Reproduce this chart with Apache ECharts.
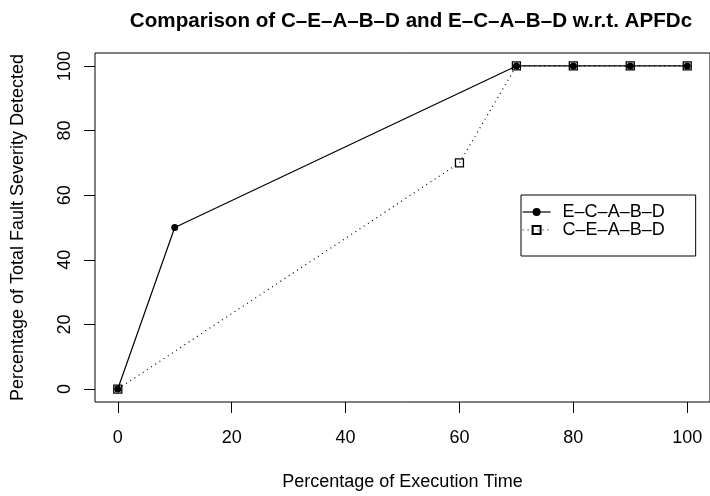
<!DOCTYPE html>
<html>
<head>
<meta charset="utf-8">
<script src="https://cdn.jsdelivr.net/npm/echarts@6/dist/echarts.min.js"></script>
<style>html,body{margin:0;padding:0;background:#fff}#chart{width:710px;height:496px}</style>
</head>
<body>
<div id="chart"></div>
<script>
var execTime1 = [0, 10, 70, 80, 90, 100];
var severity1 = [0, 50, 100, 100, 100, 100];
var execTime2 = [0, 60, 70, 80, 90, 100];
var severity2 = [0, 70, 100, 100, 100, 100];
var xTicks = [0, 20, 40, 60, 80, 100];
var yTicks = [0, 20, 40, 60, 80, 100];

function pairs(xs, ys) {
	return xs.map(function (x, i) { return [x, ys[i]]; });
}

var font = 'Liberation Sans, Arial, sans-serif';

echarts.init(document.getElementById('chart')).setOption({
	animation: false,
	backgroundColor: '#fff',
	title: {
		text: 'Comparison of C\u2013E\u2013A\u2013B\u2013D and E\u2013C\u2013A\u2013B\u2013D w.r.t. APFDc',
		left: 406,
		textAlign: 'center',
		top: 6,
		textStyle: { fontFamily: font, fontSize: 20.6, fontWeight: 'bold', color: '#000' }
	},
	grid: {
		left: 95, top: 53, right: -6, bottom: 94,
		show: true, borderColor: '#000', borderWidth: 1
	},
	legend: {
		orient: 'vertical',
		left: 521, top: 195,
		padding: [8, 31, 17, 1],
		itemGap: 0,
		itemWidth: 28,
		itemHeight: 10,
		borderColor: '#000', borderWidth: 1,
		lineStyle: { width: 1.2, color: '#000' },
		textStyle: { fontFamily: font, fontSize: 18, lineHeight: 18, color: '#000', padding: [0, 0, 0, 7] },
		data: ['E\u2013C\u2013A\u2013B\u2013D', 'C\u2013E\u2013A\u2013B\u2013D']
	},
	xAxis: {
		type: 'value', min: -4, max: 104,
		name: 'Percentage of Execution Time',
		nameLocation: 'middle', nameGap: 71,
		nameTextStyle: { fontFamily: font, fontSize: 18, color: '#000' },
		axisLine: { show: false, onZero: false },
		splitLine: { show: false },
		axisTick: { show: true, length: 11, customValues: xTicks, lineStyle: { color: '#000' } },
		axisLabel: { customValues: xTicks, margin: 27, fontFamily: font, fontSize: 18, color: '#000' }
	},
	yAxis: {
		type: 'value', min: -4, max: 104,
		name: 'Percentage of Total Fault Severity Detected',
		nameLocation: 'middle', nameGap: 68,
		nameTextStyle: { fontFamily: font, fontSize: 18, color: '#000' },
		axisLine: { show: false, onZero: false },
		splitLine: { show: false },
		axisTick: { show: true, length: 11, customValues: yTicks, lineStyle: { color: '#000' } },
		axisLabel: { customValues: yTicks, rotate: 90, margin: 21, fontFamily: font, fontSize: 18, color: '#000' }
	},
	series: [{
		name: 'E\u2013C\u2013A\u2013B\u2013D',
		type: 'line',
		data: pairs(execTime1, severity1),
		symbol: 'circle', symbolSize: 7,
		itemStyle: { color: '#000' },
		lineStyle: { color: '#000', width: 1.2 }
	}, {
		name: 'C\u2013E\u2013A\u2013B\u2013D',
		type: 'line',
		data: pairs(execTime2, severity2),
		symbol: 'rect', symbolSize: 8,
		itemStyle: { color: 'rgba(0,0,0,0)', borderColor: '#000', borderWidth: 1.3 },
		lineStyle: { color: '#000', width: 1.2, type: [1, 4] }
	}]
});
</script>
</body>
</html>
